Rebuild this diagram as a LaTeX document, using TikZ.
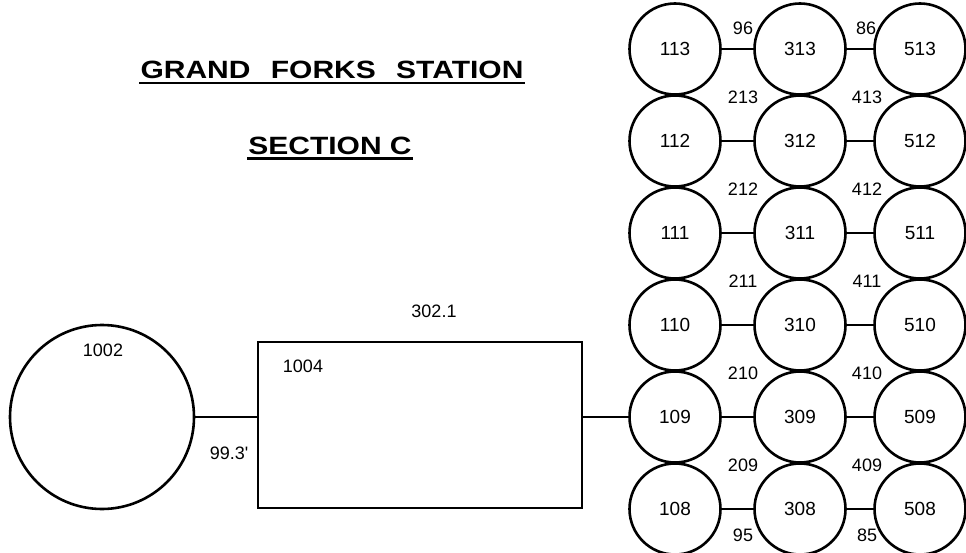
\documentclass[tikz,border=0pt]{standalone}
\usepackage{fontspec}
\setmainfont{Liberation Sans}
\usetikzlibrary{shapes.geometric}
\begin{document}
\begin{tikzpicture}[x=1pt,y=-1pt,
  line width=2.6pt,
  cell/.style={draw,circle,minimum size=91pt,inner sep=0pt,font=\fontsize{19}{22}\selectfont},
  lbl/.style={inner sep=0pt,font=\fontsize{18}{21}\selectfont},
  ttl/.style={inner sep=0pt,anchor=base,font=\fontsize{25}{30}\selectfont\bfseries}]
\useasboundingbox (0,0) rectangle (966,553);
% title
\node[ttl] (t1) at (332,79) {\scalebox{1.2}[1]{GRAND\hspace{10pt} FORKS\hspace{10pt} STATION}};
\draw[line width=2.5pt] ([yshift=-4pt]t1.base west) -- ([yshift=-4pt]t1.base east);
\node[ttl] (t2) at (330,155) {\scalebox{1.2}[1]{SECTION C}};
\draw[line width=2.5pt] ([yshift=-3.5pt]t2.base west) -- ([yshift=-3.5pt]t2.base east);
% grid
\foreach \n [count=\i from 0] in {13,12,11,10,09,08}{
  \node[cell] (a\n) at (675,{49+92*\i}) {1\n};
  \node[cell] (b\n) at (800,{49+92*\i}) {3\n};
  \node[cell] (c\n) at (920,{49+92*\i}) {5\n};
  \draw (a\n.east) -- (b\n.west);
  \draw (b\n.east) -- (c\n.west);
}
% edge labels
\node[lbl] (l96) at (743,28) {96};
\node[lbl] (l86) at (866,28) {86};
\foreach \n [count=\i from 0] in {13,12,11,10,09}{
  \node[lbl] (p\n) at (743,{97+92*\i}) {2\n};
  \node[lbl] (q\n) at (867,{97+92*\i}) {4\n};
}
\node[lbl] (l95) at (743,535) {95};
\node[lbl] (l85) at (867,535) {85};
% left part
\node[draw,circle,minimum size=184pt,inner sep=0pt] (e1002) at (102,417) {};
\node[lbl] (t1002) at (103,350) {1002};
\node[draw,rectangle,minimum width=324pt,minimum height=166pt,inner sep=0pt] (r1004) at (420,425) {};
\node[lbl] (t1004) at (303,366) {1004};
\node[lbl] (t302) at (434,311) {302.1};
\node[lbl] (t993) at (229,453) {99.3\textquotesingle};
\draw (e1002.east) -- (e1002.east -| r1004.west);
\draw (r1004.east |- a09.west) -- (a09.west);
\end{tikzpicture}
\end{document}
